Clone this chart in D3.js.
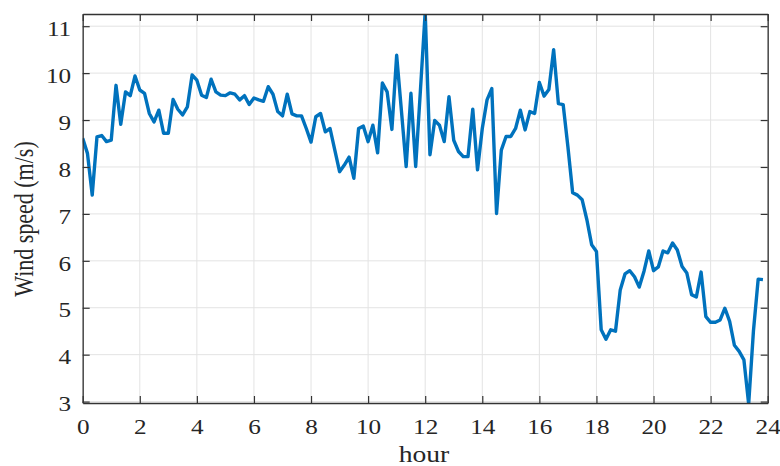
<!DOCTYPE html>
<html>
<head>
<meta charset="utf-8">
<script src="https://cdn.jsdelivr.net/npm/d3@7"></script>
<style>
  body { margin: 0; background: #fff; }
  text { font-family: "Liberation Serif", "Times New Roman", serif; fill: #262626; }
</style>
</head>
<body>
<script>
// wind speed sampled every 10 minutes over one day
var windSpeed = [
  8.61, 8.29, 7.40, 8.64, 8.67, 8.54, 8.57, 9.74, 8.91, 9.60, 9.52, 9.94,
  9.64, 9.57, 9.14, 8.96, 9.21, 8.72, 8.72, 9.44, 9.23, 9.11, 9.28, 9.96,
  9.85, 9.53, 9.48, 9.87, 9.60, 9.53, 9.52, 9.58, 9.55, 9.43, 9.52, 9.33,
  9.47, 9.43, 9.40, 9.71, 9.55, 9.18, 9.09, 9.55, 9.13, 9.09, 9.09, 8.82,
  8.53, 9.07, 9.14, 8.75, 8.82, 8.36, 7.90, 8.04, 8.21, 7.76, 8.82, 8.87,
  8.54, 8.89, 8.30, 9.79, 9.60, 8.80, 10.38, 9.20, 8.01, 9.57, 8.01, 9.64,
  11.30, 8.26, 8.99, 8.89, 8.54, 9.50, 8.57, 8.33, 8.22, 8.22, 9.23, 7.94,
  8.82, 9.43, 9.67, 7.01, 8.36, 8.65, 8.65, 8.82, 9.21, 8.79, 9.18, 9.14,
  9.80, 9.51, 9.65, 10.50, 9.35, 9.33, 8.43, 7.45, 7.40, 7.30, 6.87, 6.34,
  6.20, 4.53, 4.33, 4.53, 4.50, 5.38, 5.72, 5.79, 5.66, 5.44, 5.78, 6.21,
  5.79, 5.87, 6.21, 6.17, 6.38, 6.23, 5.88, 5.74, 5.28, 5.23, 5.76, 4.81,
  4.69, 4.69, 4.74, 4.99, 4.71, 4.20, 4.07, 3.89, 2.95, 4.50, 5.61, 5.60
];
var stepHours = 10 / 60;

var xTicks = [0, 2, 4, 6, 8, 10, 12, 14, 16, 18, 20, 22, 24];
var yTicks = [3, 4, 5, 6, 7, 8, 9, 10, 11];
var xLabel = "hour";
var yLabel = "Wind speed (m/s)";

var svg = d3.select("body").append("svg")
            .attr("width", "780")
            .attr("height", "466");

var margin = {top: 14, right: 12.3, bottom: 63, left: 82.7},
    width = +svg.attr("width") - margin.left - margin.right,
    height = +svg.attr("height") - margin.top - margin.bottom,
    g = svg.append("g").attr("transform", "translate(" + margin.left + "," + margin.top + ")");

var x = d3.scaleLinear().domain([0, 24]).range([0, width]);
var y = d3.scaleLinear().domain([2.97, 11.26]).range([height, 0]);

var stretch = 1.2; // the source picture is a bit wider than tall

// grid
g.append("g").selectAll("line")
    .data(xTicks)
    .enter().append("line")
      .attr("x1", function(d) { return x(d); })
      .attr("x2", function(d) { return x(d); })
      .attr("y1", 0).attr("y2", height)
      .attr("stroke", "#e3e3e3").attr("stroke-width", 1);

g.append("g").selectAll("line")
    .data(yTicks)
    .enter().append("line")
      .attr("y1", function(d) { return y(d); })
      .attr("y2", function(d) { return y(d); })
      .attr("x1", 0).attr("x2", width)
      .attr("stroke", "#e3e3e3").attr("stroke-width", 1);

// the series
g.append("clipPath").attr("id", "clip")
  .append("rect").attr("width", width).attr("height", height);

var line = d3.line()
    .x(function(d, i) { return x(i * stepHours); })
    .y(function(d) { return y(d); });

g.append("path")
    .datum(windSpeed)
    .attr("clip-path", "url(#clip)")
    .attr("fill", "none")
    .attr("stroke", "#0072BD")
    .attr("stroke-width", 3.4)
    .attr("stroke-linejoin", "round")
    .attr("d", line);

// axes, ticks pointing in on all four sides
function styleAxis(sel) {
  sel.select(".domain").attr("stroke", "#333").attr("stroke-width", 1.3);
  sel.selectAll(".tick line").attr("stroke", "#333").attr("stroke-width", 1.2);
  sel.selectAll("text").style("font-size", "21px").attr("fill", "#262626");
}

var xAxis = g.append("g")
    .attr("transform", "translate(0," + height + ")")
    .call(d3.axisBottom(x).tickValues(xTicks).tickSizeInner(-7).tickSizeOuter(0).tickPadding(16))
    .call(styleAxis);
xAxis.selectAll("text").attr("transform", "scale(" + stretch + ",1)");

var yAxis = g.append("g")
    .call(d3.axisLeft(y).tickValues(yTicks).tickSizeInner(-7).tickSizeOuter(0).tickPadding(0))
    .call(styleAxis);
yAxis.selectAll("text")
    .attr("x", -11.5 / stretch)
    .attr("y", 2.5)
    .attr("transform", "scale(" + stretch + ",1)");

g.append("g")
    .call(d3.axisTop(x).tickValues(xTicks).tickSizeInner(-7).tickSizeOuter(0).tickFormat(""))
    .call(styleAxis);

g.append("g")
    .attr("transform", "translate(" + width + ",0)")
    .call(d3.axisRight(y).tickValues(yTicks).tickSizeInner(-7).tickSizeOuter(0).tickFormat(""))
    .call(styleAxis);

// axis titles
svg.append("text")
    .attr("transform", "translate(424,462) scale(" + stretch + ",1)")
    .style("text-anchor", "middle")
    .style("font-size", "23px")
    .text(xLabel);

svg.append("text")
    .attr("transform", "translate(33,219) rotate(-90) scale(1," + stretch + ")")
    .style("text-anchor", "middle")
    .style("font-size", "22px")
    .text(yLabel);
</script>
</body>
</html>
